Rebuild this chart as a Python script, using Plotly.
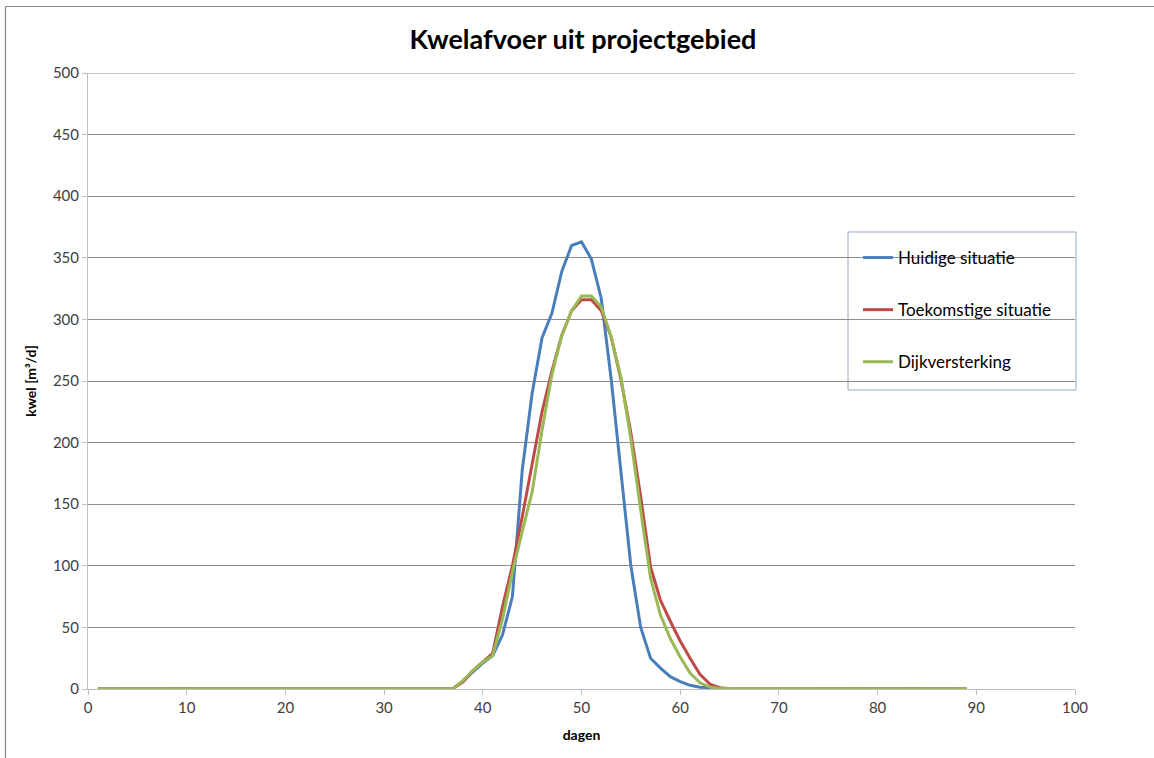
import plotly.graph_objects as go

# Seepage discharge per day (m3/d) for the three scenarios
days = list(range(1, 90))

zeros_before = [0] * 36  # days 1-36
zeros_after = [0] * 20   # days 70-89

huidige = zeros_before + [
    0.5, 6, 14, 21, 27, 44, 75, 178, 240, 285, 305, 339, 360, 363, 349, 317,
    252, 176, 100, 50, 25, 17, 10, 6, 3, 1.5, 0.7,
    0.5, 0.5, 0.5, 0.5, 0.5, 0.5,
] + zeros_after

toekomstige = zeros_before + [
    0.5, 6, 15, 22, 29, 67, 100, 140, 182, 225, 258, 287, 307, 316, 316, 307,
    286, 251, 208, 156, 99, 72, 55, 39, 25, 12, 4,
    1, 0.5, 0.5, 0.5, 0.5, 0.5,
] + zeros_after

dijkversterking = zeros_before + [
    0.5, 7, 15, 22, 27, 57, 95, 128, 160, 210, 255, 287, 307, 319, 319, 310,
    286, 253, 203, 145, 90, 60, 41, 26, 13, 5, 1.5,
    0.5, 0.5, 0.5, 0.5, 0.5, 0.5,
] + zeros_after

series = [
    ("Huidige situatie", huidige, "#4a7ebb"),
    ("Toekomstige situatie", toekomstige, "#be4b48"),
    ("Dijkversterking", dijkversterking, "#98b954"),
]

FONT = "Lato"
TXT = "#404040"

fig = go.Figure()
for i, (name, vals, color) in enumerate(series):
    fig.add_trace(go.Scatter(
        x=days, y=vals, name=name, mode="lines",
        line=dict(color=color, width=3),
        legendgroup=f"g{i}",
    ))

W, H = 1154, 758
L, R, T, B = 88, 79, 73, 69
pw, ph = W - L - R, H - T - B


def px(x):
    return (x - L) / pw


def py(y):
    return (H - B - y) / ph


fig.update_layout(
    width=W, height=H,
    margin=dict(l=L, r=R, t=T, b=B),
    paper_bgcolor="white", plot_bgcolor="white",
    font=dict(family=FONT, color=TXT, size=15),
    title=dict(
        text="<b>Kwelafvoer uit projectgebied</b>",
        x=px(583), xanchor="center", xref="paper",
        y=1 - 40 / H, yanchor="middle",
        font=dict(family=FONT, size=27, color="#000000"),
    ),
    xaxis=dict(
        range=[0, 100], dtick=10, tick0=0,
        showgrid=False, zeroline=False,
        showline=True, linecolor="#bfbfbf", linewidth=1,
        ticks="outside", ticklen=5, tickcolor="#bfbfbf",
        tickfont=dict(family=FONT, size=15, color=TXT),
        title=dict(text="<b>dagen</b>", font=dict(family=FONT, size=14, color="#000000"), standoff=15),
    ),
    yaxis=dict(
        range=[0, 500], dtick=50, tick0=0,
        showgrid=True, gridcolor="#8c8c8c", gridwidth=1,
        zeroline=False,
        showline=True, linecolor="#bfbfbf", linewidth=1,
        ticks="outside", ticklen=5, tickcolor="#bfbfbf",
        tickfont=dict(family=FONT, size=15, color=TXT),
        title=dict(text="<b>kwel [m³/d]</b>", font=dict(family=FONT, size=14, color="#000000"), standoff=12),
    ),
    legend=dict(
        x=px(858), y=py(240), xanchor="left", yanchor="top",
        bgcolor="rgba(0,0,0,0)", borderwidth=0,
        font=dict(family=FONT, size=17, color="#000000"),
        tracegroupgap=27,
    ),
    showlegend=True,
)

# top gridline at the upper end of the value axis
fig.add_shape(type="line", xref="paper", yref="y", x0=0, x1=1, y0=500, y1=500,
              line=dict(color="#8c8c8c", width=1), layer="below")

# legend frame
fig.add_shape(
    type="rect", xref="paper", yref="paper",
    x0=px(848), x1=px(1076), y0=py(390), y1=py(232),
    line=dict(color="#95a9c4", width=1), fillcolor="white", layer="below",
)

# outer chart frame (left and top edges)
fig.add_shape(type="line", xref="paper", yref="paper",
              x0=px(5.5), x1=px(5.5), y0=py(6.5), y1=py(770),
              line=dict(color="#868686", width=1.2))
fig.add_shape(type="line", xref="paper", yref="paper",
              x0=px(5.5), x1=px(1170), y0=py(6.5), y1=py(6.5),
              line=dict(color="#868686", width=1.2))

fig.write_html("out.html")
